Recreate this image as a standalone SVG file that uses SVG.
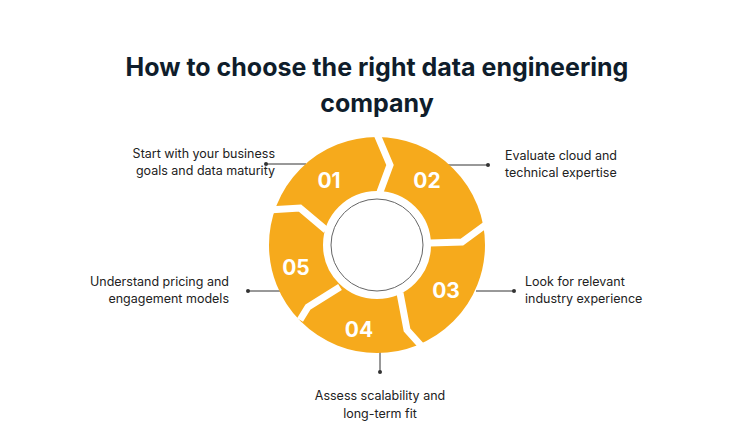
<svg xmlns="http://www.w3.org/2000/svg" width="754" height="446" viewBox="0 0 754 446">
<style>
.t{font-family:Inter,"Noto Sans",sans-serif;font-weight:700;font-size:25px;fill:#0f1d2b;text-anchor:middle}
.l{font-family:Inter,"Noto Sans",sans-serif;font-size:12.5px;fill:#222}
.n{font-family:Inter,"Noto Sans",sans-serif;font-weight:700;font-size:21px;fill:#fff;text-anchor:middle}
.c{stroke:#333;stroke-width:1;fill:none}
.g{stroke:#fff;stroke-width:7;fill:none;stroke-linejoin:miter}
</style>
<rect width="754" height="446" fill="#fff"/>
<text class="t" x="377" y="76">How to choose the right data engineering</text>
<text class="t" x="377" y="112">company</text>
<g id="connectors">
<path class="c" d="M266 164H306"/><circle cx="266" cy="164" r="2" fill="#333"/>
<path class="c" d="M448 165H488"/><circle cx="488" cy="165" r="2" fill="#333"/>
<path class="c" d="M476 291H514"/><circle cx="514" cy="291" r="2" fill="#333"/>
<path class="c" d="M248 291H280"/><circle cx="248" cy="291" r="2" fill="#333"/>
<path class="c" d="M380 350V372"/><circle cx="380" cy="372" r="2" fill="#333"/>
</g>
<g id="ring">
<circle cx="377" cy="245" r="81" fill="none" stroke="#f6aa1c" stroke-width="54"/>
<path class="g" d="M376 132L390 165L380 192"/>
<path class="g" d="M488 223L462 242L430 243"/>
<path class="g" d="M425 350L407 330L400 293"/>
<path class="g" d="M300 320L308 307L340 287"/>
<path class="g" d="M268 210L300 208L326 230"/>
<circle cx="377" cy="245" r="46" fill="#fff" stroke="#666" stroke-width="1"/>
</g>
<g id="n1"><text class="n" x="329" y="188">01</text><text class="l" x="275" y="158" text-anchor="end">Start with your business</text><text class="l" x="275" y="175" text-anchor="end">goals and data maturity</text></g>
<g id="n2"><text class="n" x="427" y="188">02</text><text class="l" x="505" y="160">Evaluate cloud and</text><text class="l" x="505" y="177">technical expertise</text></g>
<g id="n3"><text class="n" x="446" y="298">03</text><text class="l" x="525" y="286">Look for relevant</text><text class="l" x="525" y="303">industry experience</text></g>
<g id="n4"><text class="n" x="359" y="337">04</text><text class="l" x="380" y="400" text-anchor="middle">Assess scalability and</text><text class="l" x="380" y="418" text-anchor="middle">long-term fit</text></g>
<g id="n5"><text class="n" x="296" y="275">05</text><text class="l" x="229" y="286" text-anchor="end">Understand pricing and</text><text class="l" x="229" y="303" text-anchor="end">engagement models</text></g>
</svg>
